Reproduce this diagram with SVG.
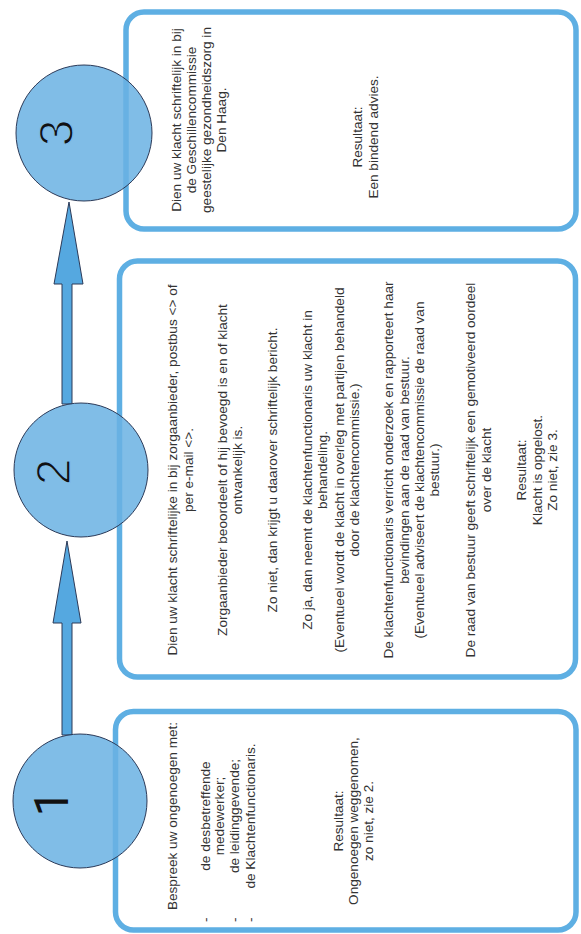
<svg xmlns="http://www.w3.org/2000/svg" width="581" height="934" viewBox="0 0 581 934">
<style>
.box{fill:#fff;stroke:#5eafe3;stroke-width:5.5}
.circ{fill:#6ab2e3;fill-opacity:0.85;stroke:#2c3a58;stroke-width:1}
.arr{fill:#55a8e0;stroke:#2c3a58;stroke-width:1}
.t{font-family:"Liberation Sans",Arial,sans-serif;font-size:13.6px;fill:#333}
.c{text-anchor:middle}
.d{font-family:"Liberation Sans",Arial,sans-serif;font-size:48px;fill:#111;text-anchor:middle}
.one{font-family:Roboto,"Liberation Sans",sans-serif}
.thin{stroke:#80bde7;stroke-width:1.3}
</style>
<rect width="581" height="934" fill="#fff"/>
<g id="box3"><rect class="box" x="126" y="12" width="450" height="217" rx="18"/></g>
<g id="box2"><rect class="box" x="119.5" y="261" width="456" height="416" rx="18"/></g>
<g id="box1"><rect class="box" x="115.5" y="711.5" width="460.5" height="218.5" rx="18"/></g>
<g id="connectors">
<polygon class="arr" points="62,735 62,623 53,623 67,541 81,623 72,623 72,735"/>
<polygon class="arr" points="62,404 62,284 54,284 69,202 83,284 72,284 72,404"/>
</g>
<g id="node3"><circle class="circ" cx="84" cy="133" r="68"/>
<text class="d thin" transform="matrix(0,-1,1,0,0,934)" x="801" y="73">3</text></g>
<g id="node2"><circle class="circ" cx="81" cy="470" r="67"/>
<text class="d thin" transform="matrix(0,-1,1,0,0,934)" x="462" y="70">2</text></g>
<g id="node1"><circle class="circ" cx="80" cy="801" r="67"/>
<text class="d one" transform="matrix(0,-1,1,0,0,934)" x="131" y="68">1</text></g>
<g id="text1" class="t" transform="matrix(0,-1,1,0,0,934)">
<text class="c" x="118" y="177">Bespreek uw ongenoegen met:</text>
<text x="12" y="210">-</text>
<text x="12" y="239">-</text>
<text x="12" y="255">-</text>
<text class="c" x="118" y="210">de desbetreffende</text>
<text class="c" x="118" y="224">medewerker;</text>
<text class="c" x="118" y="239">de leidinggevende;</text>
<text class="c" x="118" y="255">de Klachtenfunctionaris.</text>
<text class="c" x="113" y="343">Resultaat:</text>
<text class="c" x="113" y="358">Ongenoegen weggenomen,</text>
<text class="c" x="113" y="373">zo niet, zie 2.</text>
</g>
<g id="text2" class="t" transform="matrix(0,-1,1,0,0,934)">
<text class="c" x="464" y="177">Dien uw klacht schriftelijke in bij zorgaanbieder, postbus &lt;&gt; of</text>
<text class="c" x="464" y="193">per e-mail &lt;&gt;.</text>
<text class="c" x="464" y="227">Zorgaanbieder beoordeelt of hij bevoegd is en of klacht</text>
<text class="c" x="464" y="242">ontvankelijk is.</text>
<text class="c" x="464" y="277">Zo niet, dan krijgt u daarover schriftelijk bericht.</text>
<text class="c" x="464" y="312">Zo ja, dan neemt de klachtenfunctionaris uw klacht in</text>
<text class="c" x="464" y="327">behandeling.</text>
<text class="c" x="464" y="344">(Eventueel wordt de klacht in overleg met partijen behandeld</text>
<text class="c" x="464" y="359">door de klachtencommissie.)</text>
<text class="c" x="464" y="393">De klachtenfunctionaris verricht onderzoek en rapporteert haar</text>
<text class="c" x="464" y="409">bevindingen aan de raad van bestuur.</text>
<text class="c" x="464" y="424">(Eventueel adviseert de klachtencommissie de raad van</text>
<text class="c" x="464" y="439">bestuur.)</text>
<text class="c" x="464" y="475">De raad van bestuur geeft schriftelijk een gemotiveerd oordeel</text>
<text class="c" x="464" y="491">over de klacht</text>
<text class="c" x="464" y="526">Resultaat:</text>
<text class="c" x="464" y="542">Klacht is opgelost.</text>
<text class="c" x="464" y="557">Zo niet, zie 3.</text>
</g>
<g id="text3" class="t" transform="matrix(0,-1,1,0,0,934)">
<text class="c" x="814" y="181">Dien uw klacht schriftelijk in bij</text>
<text class="c" x="814" y="196">de Geschillencommissie</text>
<text class="c" x="814" y="211">geestelijke gezondheidszorg in</text>
<text class="c" x="814" y="226">Den Haag.</text>
<text class="c" x="797" y="362">Resultaat:</text>
<text class="c" x="797" y="378">Een bindend advies.</text>
</g>
</svg>
